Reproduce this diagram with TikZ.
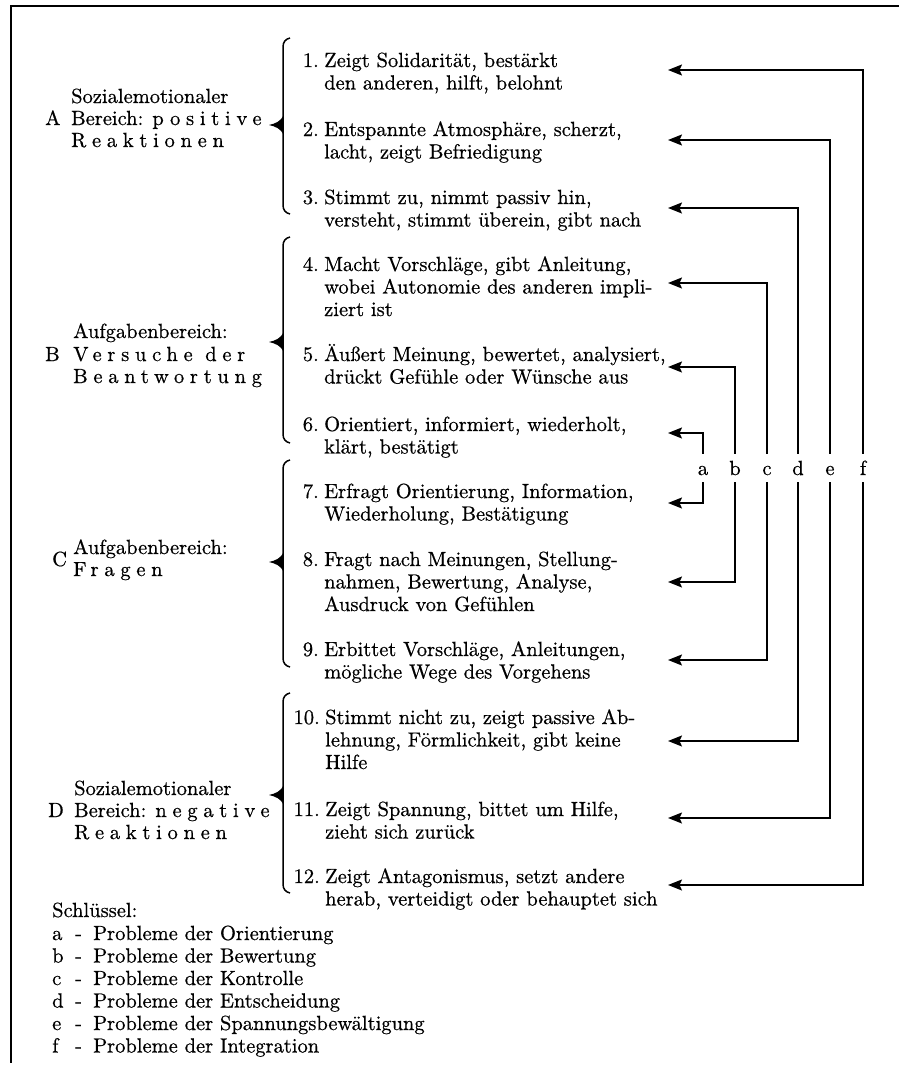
\documentclass[tikz,border=0pt]{standalone}
\usepackage{fontspec}
\setmainfont{lmroman10-regular.otf}[FakeBold=0.6]
\usetikzlibrary{arrows.meta}
\newcommand\spaced[1]{{\addfontfeature{LetterSpace=28}#1}}
\newcommand\grpbrace[3]{%
  \draw[brc] (290,#1) .. controls (285.5,#1+1) and (283,#1+4) .. (283,#1+9) -- (283,#2-9) .. controls (283,#2-4) and (285.5,#2-1) .. (290,#2);
  \fill (283.7,#3-10) .. controls (281,#3-4) and (276,#3-1.5) .. (269,#3) .. controls (276,#3+1.5) and (281,#3+4) .. (283.7,#3+10) -- cycle;}
\begin{document}
\begin{tikzpicture}[x=1pt,y=-1pt,
  every node/.style={inner sep=0pt, font=\fontsize{20.5}{22.5}\selectfont},
  txt/.style={anchor=base west},
  item/.style={anchor=base west, text width=400pt, align=left},
  num/.style={anchor=base east},
  brc/.style={line width=1.5pt},
  frame/.style={line width=2.8pt},
  conn/.style={line width=1.4pt, -{Stealth[length=14pt,width=11pt,inset=2.5pt]}},
  keylbl/.style={anchor=center, text height=14pt, text depth=0pt, inner xsep=0pt, inner ysep=7pt}]
\useasboundingbox (0,0) rectangle (899,1073);
% frame
\draw[frame] (899,6) -- (11,6) -- (11,1063);

% group labels
\node[txt] (a1) at (71,103) {Sozialemotionaler};
\node[txt] (a2) at (71,125) {Bereich: \spaced{positive}};
\node[txt] (a3) at (71,147) {\spaced{Reaktionen}};
\node[txt] (ga) at (45,125) {A};

\node[txt] (b1) at (73,338) {Aufgabenbereich:};
\node[txt] (b2) at (73,361) {\spaced{Versuche der}};
\node[txt] (b3) at (73,383) {\spaced{Beantwortung}};
\node[txt] (gb) at (45,361) {B};

\node[txt] (c1) at (73,554) {Aufgabenbereich:};
\node[txt] (c2) at (73,576) {\spaced{Fragen}};
\node[txt] (gc) at (52,566) {C};

\node[txt] (d1) at (74,795) {Sozialemotionaler};
\node[txt] (d2) at (74,817) {Bereich: \spaced{negative}};
\node[txt] (d3) at (74,839) {\spaced{Reaktionen}};
\node[txt] (gd) at (48,817) {D};

% braces
\grpbrace{38}{214}{125}
\grpbrace{237}{443}{342}
\grpbrace{460}{667}{562}
\grpbrace{693}{893}{795}

% items
\node[num] (n1) at (319,67) {1.};
\node[item] (i1) at (324,67) {Zeigt Solidarität, bestärkt\\den anderen, hilft, belohnt};
\node[num] (n2) at (319,136) {2.};
\node[item] (i2) at (324,136) {Entspannte Atmosphäre, scherzt,\\lacht, zeigt Befriedigung};
\node[num] (n3) at (319,204) {3.};
\node[item] (i3) at (324,204) {Stimmt zu, nimmt passiv hin,\\versteht, stimmt überein, gibt nach};
\node[num] (n4) at (319,271) {4.};
\node[item] (i4) at (324,271) {Macht Vorschläge, gibt Anleitung,\\wobei Autonomie des anderen impli-\\ziert ist};
\node[num] (n5) at (319,361) {5.};
\node[item] (i5) at (324,361) {Äußert Meinung, bewertet, analysiert,\\drückt Gefühle oder Wünsche aus};
\node[num] (n6) at (319,431) {6.};
\node[item] (i6) at (324,431) {Orientiert, informiert, wiederholt,\\klärt, bestätigt};
\node[num] (n7) at (319,498) {7.};
\node[item] (i7) at (324,498) {Erfragt Orientierung, Information,\\Wiederholung, Bestätigung};
\node[num] (n8) at (319,566) {8.};
\node[item] (i8) at (324,566) {Fragt nach Meinungen, Stellung-\\nahmen, Bewertung, Analyse,\\Ausdruck von Gefühlen};
\node[num] (n9) at (319,656) {9.};
\node[item] (i9) at (324,656) {Erbittet Vorschläge, Anleitungen,\\mögliche Wege des Vorgehens};
\node[num] (n10) at (320,724) {10.};
\node[item] (i10) at (325,724) {Stimmt nicht zu, zeigt passive Ab-\\lehnung, Förmlichkeit, gibt keine\\Hilfe};
\node[num] (n11) at (320,816) {11.};
\node[item] (i11) at (325,816) {Zeigt Spannung, bittet um Hilfe,\\zieht sich zurück};
\node[num] (n12) at (320,883) {12.};
\node[item] (i12) at (325,883) {Zeigt Antagonismus, setzt andere\\herab, verteidigt oder behauptet sich};

% arrow targets
\coordinate (t1) at (668,70);
\coordinate (t2) at (668,140);
\coordinate (t3) at (668,208);
\coordinate (t4) at (668,283);
\coordinate (t5) at (668,367);
\coordinate (t6) at (668,433);
\coordinate (t7) at (668,503);
\coordinate (t8) at (668,582);
\coordinate (t9) at (668,660);
\coordinate (t10) at (668,741);
\coordinate (t11) at (668,818);
\coordinate (t12) at (668,885);

% problem letters
\node[keylbl] (la) at (703,468) {a};
\node[keylbl] (lb) at (735,468) {b};
\node[keylbl] (lc) at (767,468) {c};
\node[keylbl] (ld) at (798,468) {d};
\node[keylbl] (le) at (830,468) {e};
\node[keylbl] (lf) at (863,468) {f};

\draw[conn] (lf.north) |- (t1);
\draw[conn] (le.north) |- (t2);
\draw[conn] (ld.north) |- (t3);
\draw[conn] (lc.north) |- (t4);
\draw[conn] (lb.north) |- (t5);
\draw[conn] (la.north) |- (t6);
\draw[conn] (la.south) |- (t7);
\draw[conn] (lb.south) |- (t8);
\draw[conn] (lc.south) |- (t9);
\draw[conn] (ld.south) |- (t10);
\draw[conn] (le.south) |- (t11);
\draw[conn] (lf.south) |- (t12);

% key
\node[txt] (k0) at (52,917) {Schlüssel:};
\node[txt] (ka) at (52,940) {\makebox[23pt][l]{a}\makebox[18pt][l]{-}Probleme der Orientierung};
\node[txt] (kb) at (52,962.5) {\makebox[23pt][l]{b}\makebox[18pt][l]{-}Probleme der Bewertung};
\node[txt] (kc) at (52,985) {\makebox[23pt][l]{c}\makebox[18pt][l]{-}Probleme der Kontrolle};
\node[txt] (kd) at (52,1007.5) {\makebox[23pt][l]{d}\makebox[18pt][l]{-}Probleme der Entscheidung};
\node[txt] (ke) at (52,1030) {\makebox[23pt][l]{e}\makebox[18pt][l]{-}Probleme der Spannungsbewältigung};
\node[txt] (kf) at (52,1052.5) {\makebox[23pt][l]{f}\makebox[18pt][l]{-}Probleme der Integration};
\end{tikzpicture}
\end{document}
